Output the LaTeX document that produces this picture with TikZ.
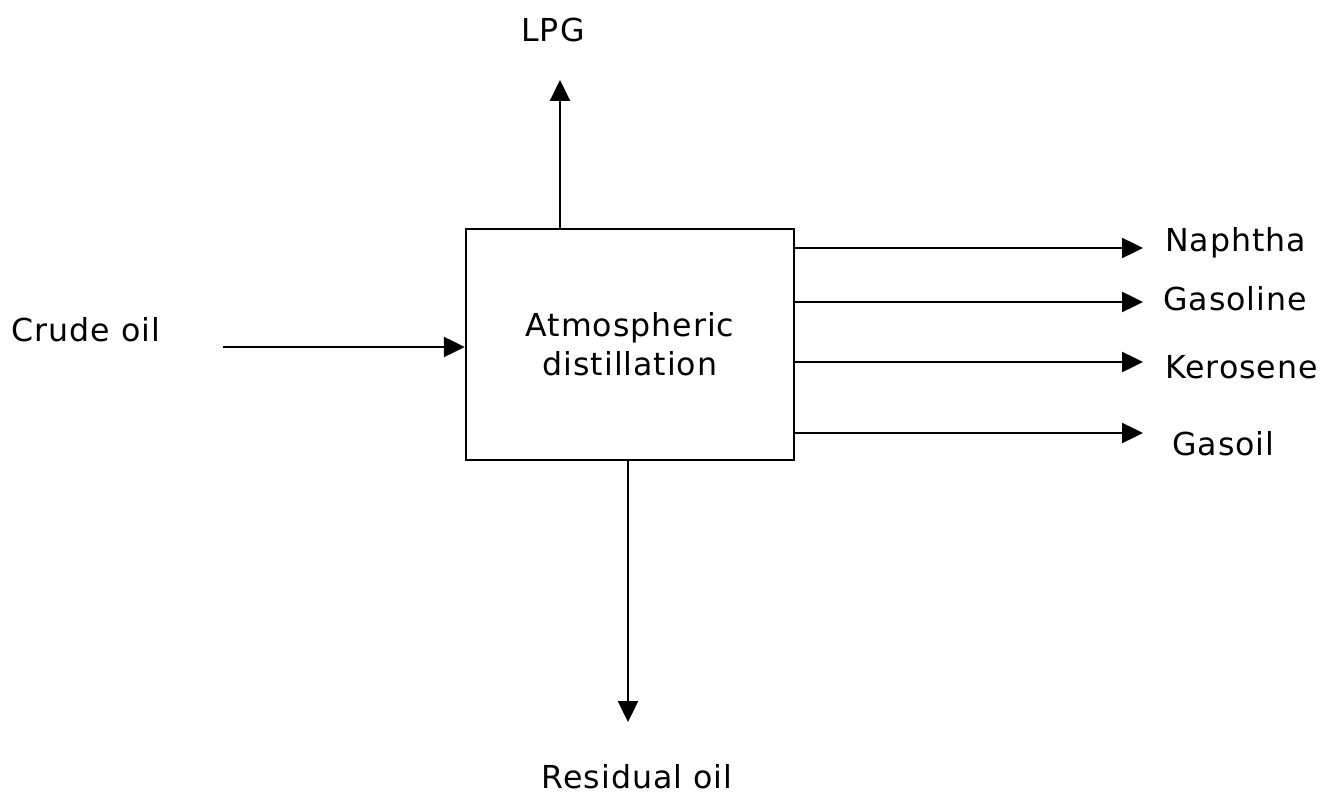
\documentclass[tikz,border=0pt]{standalone}
\usepackage{fontspec}
\setmainfont[LetterSpace=3]{DejaVu Sans}
\usetikzlibrary{arrows.meta, positioning}

\begin{document}
\begin{tikzpicture}[x=0.02cm, y=-0.02cm, >={Triangle[length=0.42cm,width=0.4cm]},
    lbl/.style={font=\fontsize{18}{22}\selectfont, inner sep=0pt},
    flow/.style={->, line width=1.4pt}]
  \useasboundingbox (0,0) rectangle (1329,797);
  % column
  \node[draw, line width=1.4pt, minimum width=328*0.02cm, minimum height=231*0.02cm,
        align=center, lbl] (dist) at (630,344.5) {Atmospheric\\distillation};
  % feed
  \node[lbl] (crude) at (86,330) {Crude oil};
  \coordinate (crudein) at (223,347);
  \draw[flow] (crudein) -- (crudein -| dist.west);
  % top and bottom products
  \node[lbl] (lpg) at (553,30) {LPG};
  \coordinate (lpgend) at (560,80);
  \draw[flow] (lpgend |- dist.north) -- (lpgend);
  \node[lbl] (resid) at (637,777) {Residual oil};
  \coordinate (residend) at (628,722);
  \draw[flow] (residend |- dist.south) -- (residend);
  % side draws
  \node[lbl, anchor=west] (naph) at (1165,243) {Naphtha};
  \node[lbl, anchor=west] (gasl) at (1163,299) {Gasoline};
  \node[lbl, anchor=west] (kero) at (1165,367) {Kerosene};
  \node[lbl, anchor=west] (gaso) at (1172,444) {Gasoil};
  \coordinate (naphend) at (1143,248);
  \coordinate (gaslend) at (1143,302);
  \coordinate (keroend) at (1143,362);
  \coordinate (gasoend) at (1143,433);
  \foreach \p in {naphend, gaslend, keroend, gasoend}
    \draw[flow] (dist.east |- \p) -- (\p);
\end{tikzpicture}
\end{document}
